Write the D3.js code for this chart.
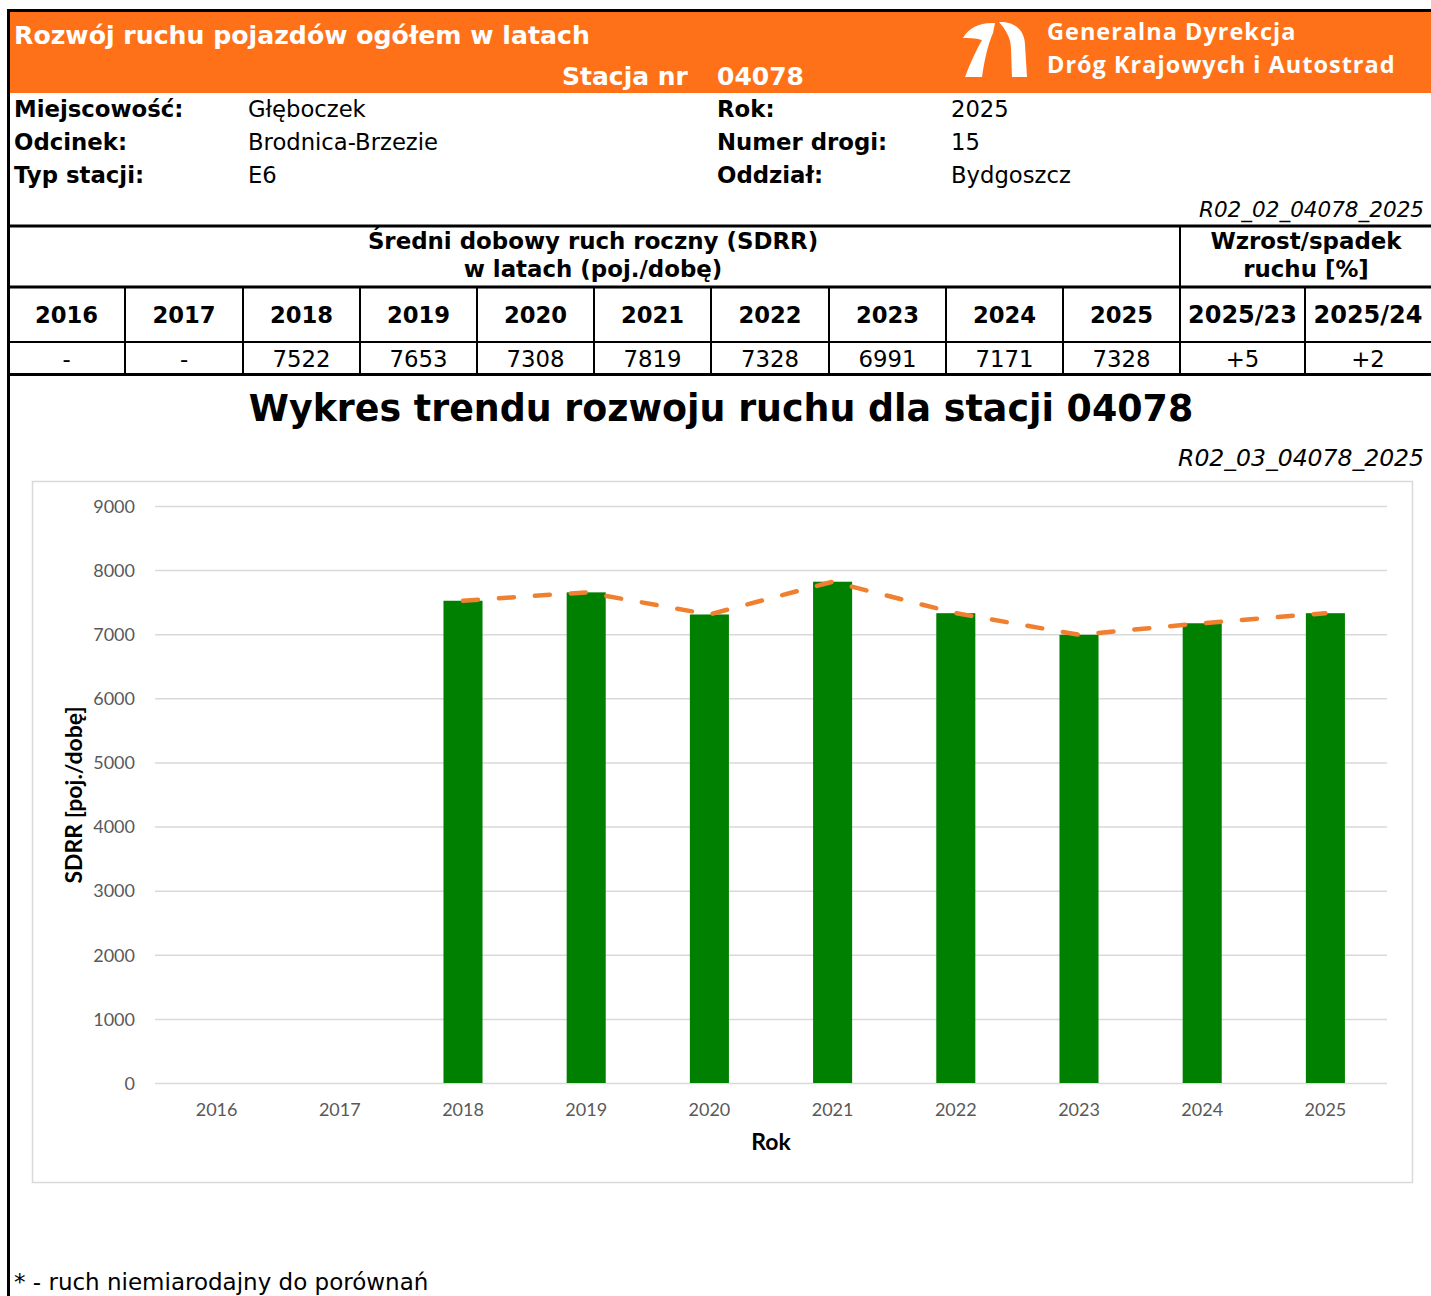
<!DOCTYPE html>
<html><head><meta charset="utf-8">
<script src="https://cdn.jsdelivr.net/npm/d3@7"></script>
<style>
html,body{margin:0;padding:0;background:#fff;}
svg{display:block;}
</style></head>
<body>
<svg id="c" width="1431" height="1296"></svg>
<script>
// ---- data ----
const years = ['2016','2017','2018','2019','2020','2021','2022','2023','2024','2025'];
const sdrr = [null, null, 7522, 7653, 7308, 7819, 7328, 6991, 7171, 7328];
const changeLabels = ['2025/23','2025/24'];
const changeValues = ['+5','+2'];
const yTicks = [0,1000,2000,3000,4000,5000,6000,7000,8000,9000];
const infoLeftLabels = ['Miejscowość:','Odcinek:','Typ stacji:'];
const infoLeftValues = ['Głęboczek','Brodnica-Brzezie','E6'];
const infoRightLabels = ['Rok:','Numer drogi:','Oddział:'];
const infoRightValues = ['2025','15','Bydgoszcz'];
const station = '04078';

const svg = d3.select('#c');
const ORANGE = '#FF7119';
const VF = "'DejaVu Sans', Verdana, sans-serif";
const CF = "Lato, 'Open Sans', sans-serif";

// ---- header band ----
svg.append('rect').attr('x',10).attr('y',12).attr('width',1421).attr('height',81).attr('fill',ORANGE);
svg.append('rect').attr('x',7).attr('y',9).attr('width',1424).attr('height',3).attr('fill','#000');
svg.append('rect').attr('x',7).attr('y',9).attr('width',3).attr('height',1287).attr('fill','#000');

svg.append('text').attr('x',14).attr('y',44).attr('fill','#fff')
  .attr('font-family',VF).attr('font-weight','bold').attr('font-size',25.2)
  .text('Rozwój ruchu pojazdów ogółem w latach');
svg.append('text').attr('x',562).attr('y',85).attr('fill','#fff')
  .attr('font-family',VF).attr('font-weight','bold').attr('font-size',25)
  .text('Stacja nr');
svg.append('text').attr('x',717).attr('y',85).attr('fill','#fff')
  .attr('font-family',VF).attr('font-weight','bold').attr('font-size',25)
  .text(station);

// logo
const logo = svg.append('g');
logo.append('path').attr('fill','#fff')
  .attr('d','M963,38 C969,27 981,22 995,23 L993,33 C989,42 985,56 982,77 L965,77 C971,61 977,49 982,40 C975,38 968,38 963,38 Z');
logo.append('path').attr('fill','#fff')
  .attr('d','M999,22 C1015,21 1025,31 1025,45 L1027,77 L1012,77 L1011,49 C1011,38 1006,30 999,22 Z');
svg.append('text').attr('x',1047).attr('y',40).attr('fill','#fff')
  .attr('font-family',"'Open Sans', sans-serif").attr('font-weight','bold').attr('font-size',23.5)
  .attr('letter-spacing',1).text('Generalna Dyrekcja');
svg.append('text').attr('x',1047).attr('y',72.5).attr('fill','#fff')
  .attr('font-family',"'Open Sans', sans-serif").attr('font-weight','bold').attr('font-size',23.5)
  .attr('letter-spacing',1).text('Dróg Krajowych i Autostrad');

// ---- info rows ----
const rowY = [117,150,183];
function infoCol(labels, values, xl, xv){
  svg.append('g').selectAll('text').data(labels).join('text')
    .attr('x',xl).attr('y',(d,i)=>rowY[i]).attr('font-family',VF).attr('font-weight','bold')
    .attr('font-size',22.8).attr('fill','#000').text(d=>d);
  svg.append('g').selectAll('text').data(values).join('text')
    .attr('x',xv).attr('y',(d,i)=>rowY[i]).attr('font-family',VF)
    .attr('font-size',22.7).attr('fill','#000').text(d=>d);
}
infoCol(infoLeftLabels, infoLeftValues, 14, 248);
infoCol(infoRightLabels, infoRightValues, 717, 951);
svg.append('text').attr('x',1424).attr('y',217).attr('text-anchor','end')
  .attr('font-family',VF).attr('font-style','italic').attr('font-size',21.5)
  .text('R02_02_' + station + '_2025');

// ---- table ----
const colX = [8,125,243,360,477,594,711,829,946,1063,1180,1305,1431];
const hLine = (y,w)=>svg.append('rect').attr('x',7).attr('y',y).attr('width',1424).attr('height',w).attr('fill','#000');
hLine(224.5,3); hLine(285.5,3); hLine(341,2); hLine(373,3);
const vLine = (x,y1,y2)=>svg.append('rect').attr('x',x-1).attr('y',y1).attr('width',2).attr('height',y2-y1).attr('fill','#000');
vLine(1180,225,376);
colX.slice(1,11).forEach(x=>vLine(x,287,376));
vLine(1305,287,376);

const TH = 22.9;
svg.append('text').attr('x',593).attr('y',249).attr('text-anchor','middle')
  .attr('font-family',VF).attr('font-weight','bold').attr('font-size',TH).text('Średni dobowy ruch roczny (SDRR)');
svg.append('text').attr('x',593).attr('y',277).attr('text-anchor','middle')
  .attr('font-family',VF).attr('font-weight','bold').attr('font-size',TH).text('w latach (poj./dobę)');
svg.append('text').attr('x',1306).attr('y',249).attr('text-anchor','middle')
  .attr('font-family',VF).attr('font-weight','bold').attr('font-size',TH).text('Wzrost/spadek');
svg.append('text').attr('x',1306).attr('y',277).attr('text-anchor','middle')
  .attr('font-family',VF).attr('font-weight','bold').attr('font-size',TH).text('ruchu [%]');

const headCells = years.concat(changeLabels);
const valCells = sdrr.map(v=>v==null?'-':String(v)).concat(changeValues);
svg.append('g').selectAll('text').data(headCells).join('text')
  .attr('x',(d,i)=>(colX[i]+colX[i+1])/2).attr('y',323).attr('text-anchor','middle')
  .attr('font-family',VF).attr('font-weight','bold').attr('font-size',(d,i)=>i<10?22.7:24)
  .text(d=>d);
svg.append('g').selectAll('text').data(valCells).join('text')
  .attr('x',(d,i)=>(colX[i]+colX[i+1])/2).attr('y',367).attr('text-anchor','middle')
  .attr('font-family',VF).attr('font-size',22.8).text(d=>d);

// ---- chart title ----
svg.append('text').attr('x',721).attr('y',421).attr('text-anchor','middle')
  .attr('font-family',VF).attr('font-weight','bold').attr('font-size',36.4)
  .text('Wykres trendu rozwoju ruchu dla stacji ' + station);
svg.append('text').attr('x',1424).attr('y',466).attr('text-anchor','end')
  .attr('font-family',VF).attr('font-style','italic').attr('font-size',23.5)
  .text('R02_03_' + station + '_2025');

// chart frame
svg.append('rect').attr('x',32.5).attr('y',481.5).attr('width',1380).attr('height',701)
  .attr('fill','#fff').attr('stroke','#d9d9d9').attr('stroke-width',1.5);

const x = d3.scaleBand().domain(years).range([155,1387]).paddingInner(0.683).paddingOuter(0.3415);
const y = d3.scaleLinear().domain([0,9000]).range([1083,506]);

// gridlines
const gy = svg.append('g').attr('transform','translate(155,0)')
  .call(d3.axisLeft(y).tickValues(yTicks).tickSize(-1232).tickFormat(''));
gy.select('.domain').remove();
gy.selectAll('line').attr('stroke','#d9d9d9').attr('stroke-width',1.5);

// y labels
const gyl = svg.append('g').attr('transform','translate(135,0)')
  .call(d3.axisLeft(y).tickValues(yTicks).tickSize(0).tickPadding(0).tickFormat(d3.format('d')));
gyl.select('.domain').remove();
gyl.selectAll('text').attr('font-family',CF).attr('font-size',18).attr('fill','#595959').attr('dy','0.35em');

// bars
const data = years.map((yr,i)=>({yr, v:sdrr[i]})).filter(d=>d.v!=null);
svg.append('g').selectAll('rect').data(data).join('rect')
  .attr('x',d=>x(d.yr)).attr('width',x.bandwidth())
  .attr('y',d=>y(d.v)).attr('height',d=>y(0)-y(d.v)).attr('fill','#008000');

// trend line
const line = d3.line().x(d=>x(d.yr)+x.bandwidth()/2).y(d=>y(d.v));
svg.append('path').datum(data).attr('d',line).attr('fill','none')
  .attr('stroke','#F0802F').attr('stroke-width',4.5).attr('stroke-linecap','round')
  .attr('stroke-linejoin','round').attr('stroke-dasharray','15,21');

// x labels
const gx = svg.append('g').attr('transform','translate(0,1083)')
  .call(d3.axisBottom(x).tickSize(0).tickPadding(0));
gx.select('.domain').remove();
gx.selectAll('text').attr('font-family',CF).attr('font-size',18).attr('fill','#595959').attr('dy','1.85em');

// axis titles
svg.append('text').attr('transform','translate(82,795) rotate(-90)').attr('text-anchor','middle')
  .attr('font-family',CF).attr('font-weight','bold').attr('font-size',23).text('SDRR [poj./dobę]');
svg.append('text').attr('x',771).attr('y',1150).attr('text-anchor','middle')
  .attr('font-family',CF).attr('font-weight','bold').attr('font-size',23).text('Rok');

// footnote
svg.append('text').attr('x',14).attr('y',1290)
  .attr('font-family',VF).attr('font-size',23).text('* - ruch niemiarodajny do porównań');
</script>
</body></html>
